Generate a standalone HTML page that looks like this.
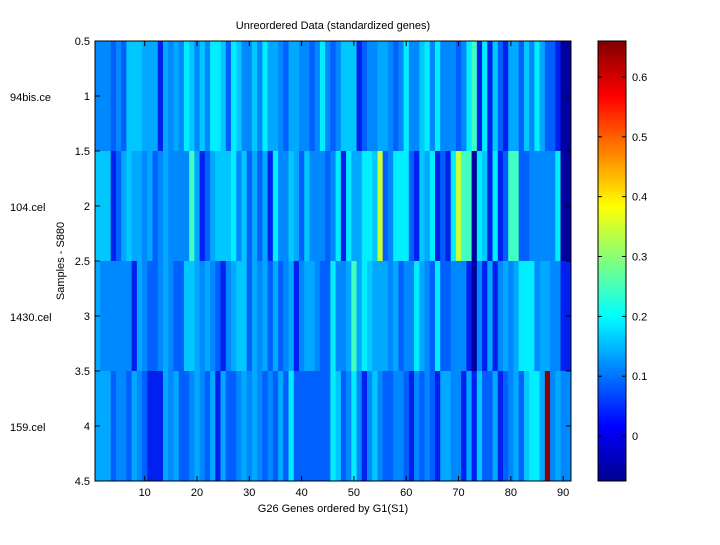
<!DOCTYPE html>
<html><head><meta charset="utf-8"><style>
body{margin:0;background:#fff;width:720px;height:540px;overflow:hidden}
svg text{font-family:"Liberation Sans",sans-serif;font-size:11px;fill:#000}
</style></head><body>
<svg id="s" width="720" height="540" xmlns="http://www.w3.org/2000/svg">
<defs><linearGradient id="jet" x1="0" y1="1" x2="0" y2="0">
<stop offset="0" stop-color="#00008f"/><stop offset="0.125" stop-color="#0000ff"/>
<stop offset="0.375" stop-color="#00ffff"/><stop offset="0.625" stop-color="#ffff00"/>
<stop offset="0.875" stop-color="#ff0000"/><stop offset="1" stop-color="#800000"/></linearGradient></defs>
<g id="hm"></g>
<rect x="95" y="41" width="476" height="440" fill="none" stroke="#000" stroke-width="1"/>
<rect x="598" y="41" width="28" height="440" fill="url(#jet)" stroke="#000"/>
<g id="ax"></g>
<text x="333" y="29" text-anchor="middle">Unreordered Data (standardized genes)</text>
<text x="333" y="512" text-anchor="middle">G26 Genes ordered by G1(S1)</text>
<text transform="translate(64,261) rotate(-90)" text-anchor="middle">Samples - S880</text>
<text x="10" y="101">94bis.ce</text>
<text x="10" y="211">104.cel</text>
<text x="10" y="321">1430.cel</text>
<text x="10" y="431">159.cel</text>
</svg>
<script>
var P={A:"#0060ff",B:"#0088ff",C:"#00a8ff",D:"#00c8ff",E:"#00eeff",N:"#0020f0",K:"#0000a0",G:"#40ffc0",Y:"#c8ff38",R:"#8b0000"};
var rows=[
"BBBABADDDCCCNCBCBEDBDBEEDAEDBBDBECCBACCBBABEBABDDDNABBCCBABEBBDEBEBBBABEGNENDANCCADBECAANKK",
"DDDNACDCCBCABCBBBBGCNACDDDEBDACACNEBBDCADBBBABENECCEEDYABEEEANDCENANEYGGKEDNENAGGAABBBBBEKK",
"CBBBBBBNCBAABCBAADDCBCBANBCDDACBCACABCNBCCBAAEBBCGCEDCCCBCABBECBAEAABBBNKBNCNBCBCEEEBCCBBNN",
"CCCABBACBANNNCBCAABCBACNCAABCBCBABACAEAAAAAAAEDABEBNBDBAABBANBABANCCBBNCNDAACNABCADEECRBCBB"];
var h="",w=476/91;
rows.forEach(function(r,i){for(var c=0;c<91;c++){h+='<rect x="'+(95+c*w).toFixed(2)+'" y="'+(41+i*110)+'" width="'+(w+0.4).toFixed(2)+'" height="110" fill="'+P[r[c]]+'"/>';}});
document.getElementById("hm").innerHTML=h;
var a="";
for(var k=10;k<=90;k+=10){var x=95+(k-0.5)*w;a+='<line x1="'+x+'" y1="481" x2="'+x+'" y2="476" stroke="#000"/><line x1="'+x+'" y1="41" x2="'+x+'" y2="46" stroke="#000"/><text x="'+x+'" y="496" text-anchor="middle">'+k+'</text>';}
for(var v=0.5;v<=4.51;v+=0.5){var y=41+(v-0.5)*110;a+='<line x1="95" y1="'+y+'" x2="100" y2="'+y+'" stroke="#000"/><line x1="571" y1="'+y+'" x2="566" y2="'+y+'" stroke="#000"/><text x="90" y="'+(y+4)+'" text-anchor="end">'+v+'</text>';}
for(var t=0;t<=6;t++){var val=t/10,y=481-(val+0.075)/0.735*440;a+='<line x1="598" y1="'+y+'" x2="602" y2="'+y+'" stroke="#000"/><line x1="626" y1="'+y+'" x2="622" y2="'+y+'" stroke="#000"/><text x="632" y="'+(y+4)+'">'+(t==0?"0":val)+'</text>';}
document.getElementById("ax").innerHTML=a;
</script>
</body></html>
